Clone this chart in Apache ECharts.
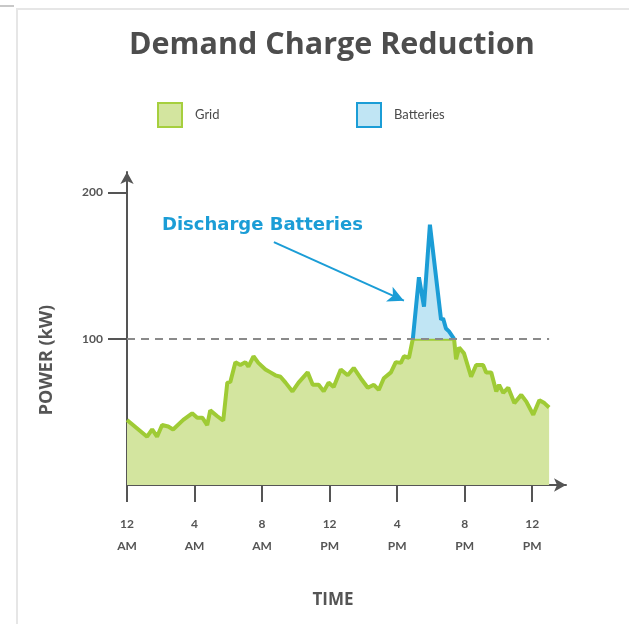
<!DOCTYPE html>
<html>
<head>
<meta charset="utf-8">
<script src="https://cdn.jsdelivr.net/npm/echarts@6/dist/echarts.min.js"></script>
<style>
  html, body { margin: 0; padding: 0; background: #fff; }
  #chart { width: 629px; height: 624px; }
</style>
</head>
<body>
<div id="chart"></div>
<script>
  // hours since midnight and grid power (kW)
  var gridHours = [0, 1.19, 1.49, 1.78, 2.08, 2.44, 2.73, 3.33, 3.86, 4.16, 4.46, 4.75, 4.93, 5.35, 5.70,
    5.94, 6.12, 6.42, 6.71, 7.01, 7.19, 7.49, 7.78, 8.20, 8.50, 8.79, 9.09, 9.39, 9.80, 10.16, 10.70,
    11.0, 11.35, 11.65, 11.94, 12.24, 12.66, 13.07, 13.43, 13.84, 14.26, 14.62, 14.91, 15.21, 15.63,
    15.92, 16.22, 16.40, 16.70, 16.93, 19.37, 19.49, 19.67, 19.96, 20.38, 20.68, 21.09, 21.27, 21.57,
    21.87, 22.04, 22.28, 22.58, 22.94, 23.35, 23.65, 24.06, 24.42, 24.72, 25.0];
  var gridKW = [44.5, 33, 38, 33, 41, 40, 38, 44.5, 49, 46, 46, 41, 51, 47, 44,
    70, 70.5, 84, 82, 84, 81, 88, 83.5, 79, 77, 75, 74, 70, 64, 70, 77,
    68.5, 68.5, 64, 70, 67, 79, 75, 80, 73, 66.5, 68.5, 65, 73, 77,
    84, 83.5, 88, 87, 100, 100, 86, 94, 90, 74, 82, 82, 77, 77,
    64, 68.5, 63, 66.5, 56, 61.6, 57, 48, 58, 56, 53];

  // battery discharge on top of the 100 kW cap
  var battHours = [16.93, 17.29, 17.59, 17.94, 18.60, 18.72, 18.89, 19.07, 19.31, 19.37];
  var battKW = [100, 142, 122, 178, 113, 114, 107, 105, 101, 100];

  var peakLimit = 100;
  var xTicks = [0, 4, 8, 12, 16, 20, 24];
  var xTickLabels = ['12\nAM', '4\nAM', '8\nAM', '12\nPM', '4\nPM', '8\nPM', '12\nPM'];
  var yTicks = [100, 200];

  var myChart = echarts.init(document.getElementById('chart'));
  var axisGray = '#555';

  var option = {
    backgroundColor: '#fff',
    animation: false,
    title: {
      text: 'Demand Charge Reduction',
      left: 129,
      top: 30,
      padding: 0,
      textStyle: {
        fontFamily: 'Open Sans',
        fontWeight: 'bold',
        fontSize: 30.5,
        color: '#4d4d4d'
      }
    },
    legend: [{
      data: [{ name: 'Grid', itemStyle: { color: '#d3e59f', borderColor: '#a6cf3e', borderWidth: 2 } }],
      left: 157,
      top: 102,
      padding: 0,
      icon: 'rect',
      itemWidth: 24,
      itemHeight: 24,
      selectedMode: false,
      textStyle: { color: '#4a4a4a', fontSize: 13, fontFamily: 'Lato', padding: [0, 0, 0, 8] }
    }, {
      data: [{ name: 'Batteries', itemStyle: { color: '#c0e5f4', borderColor: '#1b9dd6', borderWidth: 2 } }],
      left: 356,
      top: 102,
      padding: 0,
      icon: 'rect',
      itemWidth: 24,
      itemHeight: 24,
      selectedMode: false,
      textStyle: { color: '#4a4a4a', fontSize: 13, fontFamily: 'Lato', padding: [0, 0, 0, 8] }
    }],
    grid: {
      left: 127,
      right: 63,
      top: 172,
      bottom: 139
    },
    xAxis: {
      type: 'value',
      min: 0,
      max: 26,
      interval: 4,
      splitLine: { show: false },
      axisLine: {
        lineStyle: { color: axisGray, width: 2 },
        symbol: ['none', 'arrow'],
        symbolSize: [10, 12]
      },
      axisTick: {
        customValues: xTicks,
        length: 17,
        lineStyle: { color: axisGray, width: 2 }
      },
      axisLabel: {
        customValues: xTicks,
        margin: 28,
        color: axisGray,
        fontFamily: 'Lato',
        fontWeight: 'bold',
        fontSize: 12,
        lineHeight: 22,
        formatter: function (v) {
          return xTickLabels[xTicks.indexOf(v)];
        }
      }
    },
    yAxis: {
      type: 'value',
      min: 0,
      max: 214,
      interval: 100,
      splitLine: { show: false },
      axisLine: {
        show: true,
        lineStyle: { color: axisGray, width: 2 },
        symbol: ['none', 'arrow'],
        symbolSize: [10, 12]
      },
      axisTick: {
        show: true,
        customValues: yTicks,
        length: 19,
        lineStyle: { color: axisGray, width: 2 }
      },
      axisLabel: {
        customValues: yTicks,
        margin: 24,
        color: axisGray,
        fontFamily: 'Lato',
        fontWeight: 'bold',
        fontSize: 12
      }
    },
    series: [{
      name: 'Grid',
      type: 'line',
      showSymbol: false,
      z: 2,
      data: gridHours.map(function (h, i) { return [h, gridKW[i]]; }),
      lineStyle: { color: '#9fcb35', width: 4 },
      itemStyle: { color: '#9fcb35' },
      areaStyle: { color: '#d3e59f', opacity: 1 },
      markLine: {
        silent: true,
        symbol: 'none',
        label: { show: false },
        lineStyle: { color: '#8a8a8a', width: 2, type: [8, 6] },
        data: [[{ coord: [0, peakLimit] }, { coord: [25, peakLimit] }]]
      }
    }, {
      name: 'Batteries',
      type: 'line',
      showSymbol: false,
      z: 3,
      data: battHours.map(function (h, i) { return [h, battKW[i]]; }),
      lineStyle: { color: '#1b9dd6', width: 4 },
      itemStyle: { color: '#1b9dd6' },
      areaStyle: { color: '#c0e5f4', opacity: 1, origin: peakLimit },
      markLine: {
        silent: true,
        symbol: ['none', 'arrow'],
        symbolSize: [12, 16],
        label: { show: false },
        lineStyle: { color: '#1b9dd6', width: 2, type: 'solid' },
        data: [[{ coord: [8.7, 166] }, { coord: [16.4, 126] }]]
      }
    }],
    graphic: [
      // card frame
      { type: 'rect', shape: { x: 16, y: 8, width: 613, height: 2 }, style: { fill: '#e6e6e6' }, silent: true },
      { type: 'rect', shape: { x: 16, y: 8, width: 2, height: 616 }, style: { fill: '#e6e6e6' }, silent: true },
      { type: 'rect', shape: { x: 0, y: 5, width: 14, height: 2 }, style: { fill: '#c8c8c8' }, silent: true },
      {
        type: 'text',
        x: 162,
        y: 225,
        style: {
          text: 'Discharge Batteries',
          fill: '#1b9dd6',
          font: 'bold 18px "DejaVu Sans"',
          verticalAlign: 'middle'
        }
      },
      {
        type: 'text',
        x: 47,
        y: 360,
        rotation: Math.PI / 2,
        style: {
          text: 'POWER (kW)',
          fill: axisGray,
          font: 'bold 18px "Open Sans"',
          align: 'center',
          verticalAlign: 'middle'
        }
      },
      {
        type: 'text',
        x: 333,
        y: 600,
        style: {
          text: 'TIME',
          fill: axisGray,
          font: 'bold 17px "Open Sans"',
          align: 'center',
          verticalAlign: 'middle'
        }
      }
    ]
  };

  if (option && typeof option === 'object') {
    myChart.setOption(option, true);
  }
</script>
</body>
</html>
